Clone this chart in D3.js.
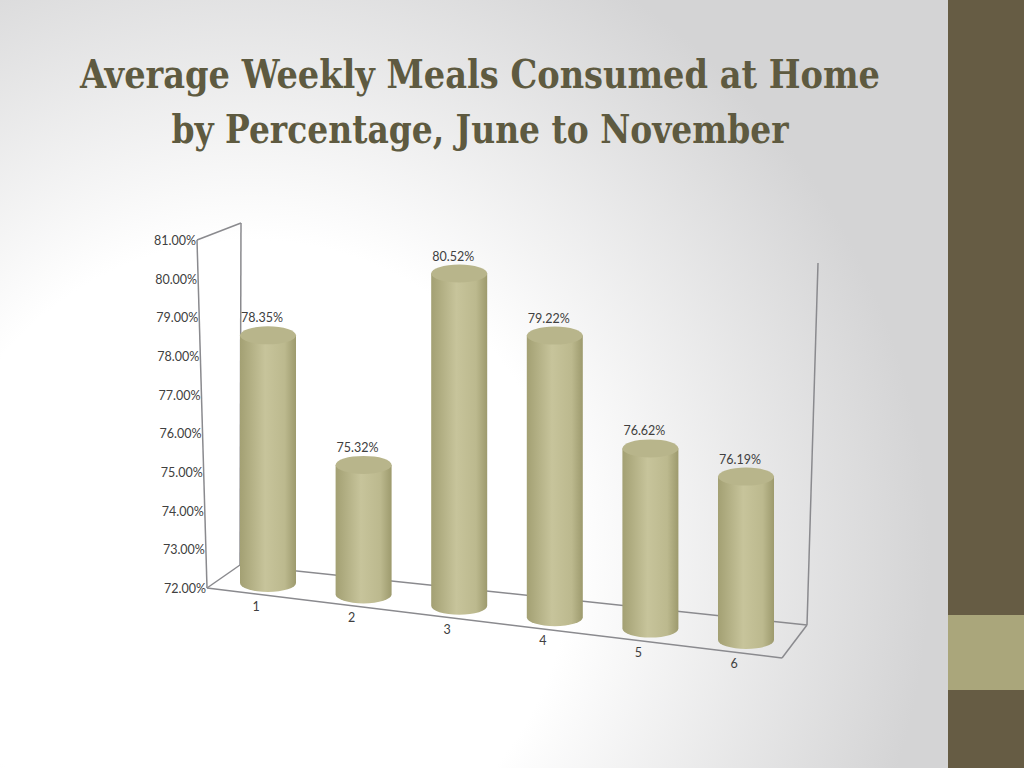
<!DOCTYPE html>
<html><head><meta charset="utf-8">
<script src="https://cdn.jsdelivr.net/npm/d3@7"></script>
<style>body{margin:0;overflow:hidden}</style></head>
<body><svg id="c" width="1024" height="768"></svg>
<script>
const categories = ["1","2","3","4","5","6"];
const values = [78.35, 75.32, 80.52, 79.22, 76.62, 76.19];
const tickValues = [72,73,74,75,76,77,78,79,80,81];
const titleLines = ["Average Weekly Meals Consumed at Home","by Percentage, June to November"];

const svg = d3.select("#c");
const defs = svg.append("defs");
const bg = defs.append("radialGradient").attr("id","bg").attr("gradientUnits","userSpaceOnUse")
  .attr("cx",250).attr("cy",560).attr("r",800);
bg.append("stop").attr("offset","0.4").attr("stop-color","#ffffff");
bg.append("stop").attr("offset","0.85").attr("stop-color","#d4d4d5");
const cg = defs.append("linearGradient").attr("id","cyl");
[["0","#a3a073"],["0.45","#c7c49b"],["0.8","#bcb98e"],["1","#9d9a6d"]].forEach(s=>cg.append("stop").attr("offset",s[0]).attr("stop-color",s[1]));

svg.append("rect").attr("width",948).attr("height",768).attr("fill","url(#bg)");
svg.append("rect").attr("x",948).attr("width",76).attr("height",768).attr("fill","#665c44");
svg.append("rect").attr("x",948).attr("y",615).attr("width",76).attr("height",75).attr("fill","#aaa67b");

const titleLen = [800, 617];
svg.selectAll("text.title").data(titleLines).join("text")
  .attr("x",480).attr("y",(d,i)=>88+i*55).attr("text-anchor","middle")
  .attr("font-family","DejaVu Serif Condensed, Liberation Serif, serif").attr("font-weight","bold")
  .attr("font-size",40).attr("textLength",(d,i)=>titleLen[i]).attr("lengthAdjust","spacingAndGlyphs")
  .attr("fill","#5e5a40").text(d=>d);

const wall = "#8a8a8e";
const frame = [[[197,240],[241,223]],[[197,240],[207,588]],[[207,588],[782,658]],[[207,588],[240,565]],
  [[240,565],[807,625]],[[782,658],[807,625]],[[807,625],[818,263]],[[241,223],[240,565]]];
svg.selectAll("line.f").data(frame).join("line")
  .attr("x1",d=>d[0][0]).attr("y1",d=>d[0][1]).attr("x2",d=>d[1][0]).attr("y2",d=>d[1][1])
  .attr("stroke",wall).attr("stroke-width",1.5);

const yAxis = d3.scaleLinear().domain([72,81]).range([589,241]);
const yAxisX = d3.scaleLinear().domain([72,81]).range([206,196]);
svg.selectAll("text.tick").data(tickValues).join("text")
  .attr("x",d=>yAxisX(d)).attr("y",d=>yAxis(d)+4).attr("text-anchor","end")
  .attr("font-family","Lato, sans-serif").attr("font-size",12.5).attr("fill","#404040")
  .text(d=>d.toFixed(2)+"%");

const x = d3.scalePoint().domain(categories).range([268,746]);
const base = d3.scaleLinear().domain([0,5]).range([583,640]);
const h = d3.scaleLinear().domain([72,81]).range([0,351]);
const rx = 28, ry = 9;
const g = svg.selectAll("g.bar").data(values).join("g");
g.each(function(v,i){
  const s = d3.select(this), cx = x(categories[i]), b = base(i), t = b - h(v);
  s.append("path").attr("d",`M${cx-rx},${t} L${cx-rx},${b} A${rx},${ry} 0 0 0 ${cx+rx},${b} L${cx+rx},${t} Z`)
    .attr("fill","url(#cyl)");
  s.append("ellipse").attr("cx",cx).attr("cy",t).attr("rx",rx).attr("ry",ry).attr("fill","#b8b58b");
  s.append("text").attr("x",cx-6).attr("y",t-13).attr("text-anchor","middle")
    .attr("font-family","Lato, sans-serif").attr("font-size",12.5).attr("fill","#404040").text(v.toFixed(2)+"%");
  s.append("text").attr("x",cx-12).attr("y",b+28).attr("text-anchor","middle")
    .attr("font-family","Lato, sans-serif").attr("font-size",12.5).attr("fill","#404040").text(categories[i]);
});
</script></body></html>
